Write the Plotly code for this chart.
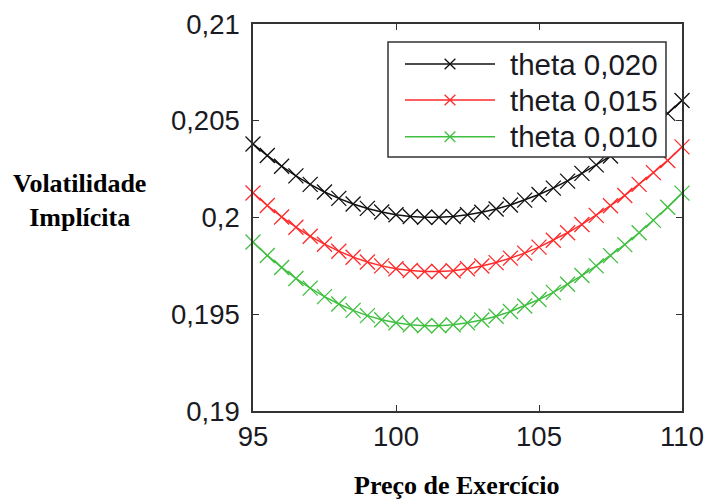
import plotly.graph_objects as go

# ---- data ----
strike = [95.0, 95.5, 96.0, 96.5, 97.0, 97.5, 98.0, 98.5, 99.0, 99.5, 100.0,
          100.5, 101.0, 101.5, 102.0, 102.5, 103.0, 103.5, 104.0, 104.5, 105.0,
          105.5, 106.0, 106.5, 107.0, 107.5, 108.0, 108.5, 109.0, 109.5, 110.0]

theta_020 = [0.20380, 0.20320, 0.20265, 0.20215, 0.20171, 0.20132, 0.20099, 0.20070,
             0.20047, 0.20028, 0.20014, 0.20005, 0.20001, 0.20001, 0.20005, 0.20014,
             0.20027, 0.20044, 0.20065, 0.20090, 0.20119, 0.20152, 0.20188, 0.20228,
             0.20272, 0.20318, 0.20369, 0.20422, 0.20478, 0.20538, 0.20605]

theta_015 = [0.20127, 0.20062, 0.20003, 0.19950, 0.19903, 0.19862, 0.19826, 0.19795,
             0.19770, 0.19750, 0.19735, 0.19726, 0.19721, 0.19721, 0.19725, 0.19735,
             0.19749, 0.19767, 0.19790, 0.19816, 0.19847, 0.19882, 0.19921, 0.19964,
             0.20011, 0.20061, 0.20114, 0.20171, 0.20232, 0.20295, 0.20365]

theta_010 = [0.19873, 0.19804, 0.19742, 0.19685, 0.19635, 0.19591, 0.19553, 0.19520,
             0.19493, 0.19472, 0.19456, 0.19446, 0.19441, 0.19441, 0.19446, 0.19456,
             0.19470, 0.19490, 0.19514, 0.19543, 0.19576, 0.19613, 0.19655, 0.19700,
             0.19750, 0.19803, 0.19860, 0.19921, 0.19985, 0.20053, 0.20126]

series_names = ["theta 0,020", "theta 0,015", "theta 0,010"]
series_values = [theta_020, theta_015, theta_010]
series_colors = ["#111111", "#ff2a2a", "#3fbf3f"]

x_tickvals = [95, 100, 105, 110]
x_ticktext = ["95", "100", "105", "110"]
y_tickvals = [0.19, 0.195, 0.20, 0.205, 0.21]
y_ticktext = ["0,19", "0,195", "0,2", "0,205", "0,21"]

fig = go.Figure()
for name, vals, col in zip(series_names, series_values, series_colors):
    fig.add_trace(go.Scatter(
        x=strike, y=vals, name=name, mode="lines+markers",
        line=dict(color=col, width=1.5),
        marker=dict(symbol="x-thin-open", size=15, line=dict(color=col, width=1.3)),
        cliponaxis=False, showlegend=False))

# ---- manual legend box (paper coordinates) ----
shapes = [dict(type="rect", xref="paper", yref="paper", x0=0.3147, x1=0.9627,
               y0=0.6563, y1=0.9535, fillcolor="white",
               line=dict(color="#333333", width=1.5), layer="above")]
annotations = []
row_y = [0.8966, 0.8036, 0.7088]
dx, dy = 0.0125, 0.0135
for name, col, yy in zip(series_names, series_colors, row_y):
    shapes.append(dict(type="line", xref="paper", yref="paper", x0=0.3543, x1=0.5641,
                       y0=yy, y1=yy, line=dict(color=col, width=1.5), layer="above"))
    shapes.append(dict(type="line", xref="paper", yref="paper", x0=0.4592 - dx, x1=0.4592 + dx,
                       y0=yy - dy, y1=yy + dy, line=dict(color=col, width=1.3), layer="above"))
    shapes.append(dict(type="line", xref="paper", yref="paper", x0=0.4592 - dx, x1=0.4592 + dx,
                       y0=yy + dy, y1=yy - dy, line=dict(color=col, width=1.3), layer="above"))
    annotations.append(dict(xref="paper", yref="paper", x=0.5944, y=yy, text=name,
                            xanchor="left", yanchor="middle", showarrow=False,
                            font=dict(family="Liberation Sans, Arial", size=29.5, color="#1a1a22")))

annotations.append(dict(xref="paper", yref="paper", x=-0.405, y=0.543,
                        text="<b>Volatilidade</b><br><b>Implícita</b>", showarrow=False,
                        xanchor="center", yanchor="middle", align="center",
                        font=dict(family="Liberation Serif, Times New Roman", size=26, color="black")))
annotations.append(dict(xref="paper", yref="paper", x=0.4755, y=-0.192,
                        text="<b>Preço de Exercício</b>", showarrow=False,
                        xanchor="center", yanchor="middle",
                        font=dict(family="Liberation Serif, Times New Roman", size=26, color="black")))

axis_common = dict(showgrid=False, zeroline=False, showline=True, linecolor="#333333",
                   linewidth=1.5, mirror="ticks", ticks="inside", ticklen=6,
                   tickcolor="#333333", tickwidth=1.2, automargin=False,
                   tickfont=dict(family="Liberation Sans, Arial", size=27.5, color="#1a1a22"))

fig.update_xaxes(range=[95, 110], tickvals=x_tickvals, ticktext=x_ticktext, **axis_common)
fig.update_yaxes(range=[0.19, 0.21], tickvals=y_tickvals, ticktext=y_ticktext,
                 ticklabelstandoff=6, **axis_common)

fig.update_layout(width=704, height=502, margin=dict(l=253, r=22, t=24, b=91),
                  plot_bgcolor="white", paper_bgcolor="white",
                  shapes=shapes, annotations=annotations, showlegend=False)

fig.write_html("out.html", config={"displayModeBar": False},
               post_script="document.body.style.margin='0';document.body.style.padding='0';document.body.style.overflow='hidden';")
